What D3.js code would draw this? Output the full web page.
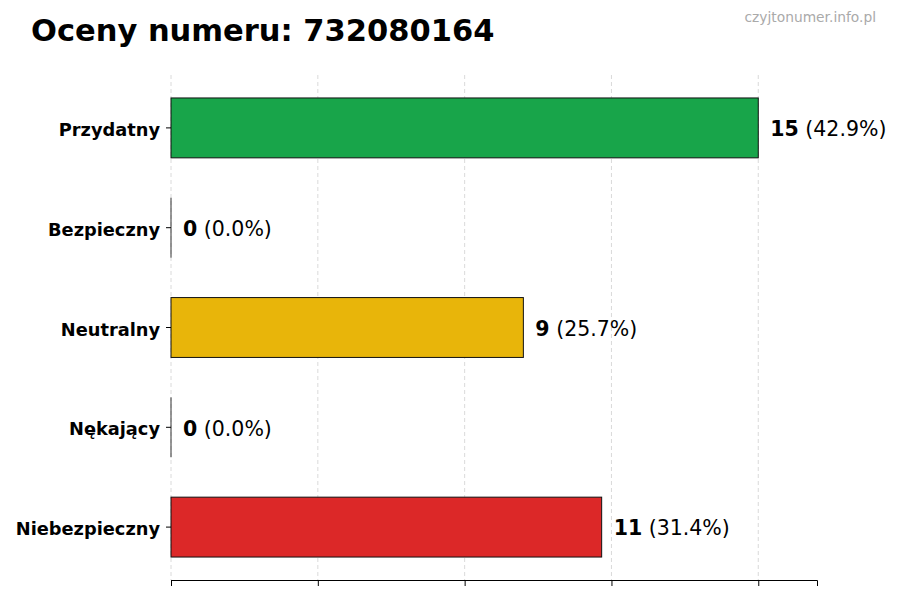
<!DOCTYPE html>
<html>
<head>
<meta charset="utf-8">
<script src="https://cdn.jsdelivr.net/npm/d3@7"></script>
<style>
  body { margin: 0; background: #fff; }
  text { font-family: "DejaVu Sans", sans-serif; }
</style>
</head>
<body>
<script>
const categories = ["Przydatny", "Bezpieczny", "Neutralny", "Nękający", "Niebezpieczny"];
const counts = [15, 0, 9, 0, 11];
const colors = ["#18a54a", "#9ca3af", "#e8b50a", "#f97316", "#dc2828"];
const title = "Oceny numeru: 732080164";
const source = "czyjtonumer.info.pl";

const width = 900, height = 600;
const margin = { top: 75, right: 83, bottom: 20, left: 171 };
const total = d3.sum(counts);
const maxVal = d3.max(counts);

const svg = d3.select("body").append("svg")
    .attr("width", width)
    .attr("height", height);

const x = d3.scaleLinear()
    .domain([0, maxVal * 1.1])
    .range([margin.left, width - margin.right]);

const y = d3.scaleBand()
    .domain(categories)
    .range([78, 577])
    .paddingInner(0.4)
    .paddingOuter(0.2);

const tickVals = d3.range(5).map(i => maxVal * i / 4);

// grid
svg.append("g")
    .selectAll("line")
    .data(tickVals)
    .join("line")
    .attr("x1", d => x(d))
    .attr("x2", d => x(d))
    .attr("y1", margin.top)
    .attr("y2", height - margin.bottom)
    .attr("stroke", "#d0d0d0")
    .attr("stroke-width", 0.8)
    .attr("stroke-dasharray", "4,3");

// bars
svg.append("g")
    .selectAll("rect")
    .data(categories)
    .join("rect")
    .attr("x", x(0))
    .attr("y", d => y(d))
    .attr("width", (d, i) => x(counts[i]) - x(0))
    .attr("height", y.bandwidth())
    .attr("fill", (d, i) => colors[i])
    .attr("stroke", "#111")
    .attr("stroke-width", 1);

// zero-width bars still show their edge
svg.append("g")
    .selectAll("line")
    .data(categories.filter((d, i) => counts[i] === 0))
    .join("line")
    .attr("x1", x(0))
    .attr("x2", x(0))
    .attr("y1", d => y(d))
    .attr("y2", d => y(d) + y.bandwidth())
    .attr("stroke", "#333")
    .attr("stroke-width", 1);

// value labels
const labels = svg.append("g")
    .selectAll("text")
    .data(categories)
    .join("text")
    .attr("x", (d, i) => x(counts[i]) + 12)
    .attr("y", d => y(d) + y.bandwidth() / 2)
    .attr("dy", "0.4em")
    .style("font-size", "20.5px")
    .attr("fill", "#000");
labels.append("tspan")
    .style("font-weight", "bold")
    .text((d, i) => counts[i]);
labels.append("tspan")
    .text((d, i) => " (" + (counts[i] / total * 100).toFixed(1) + "%)");

// axes
const xAxis = svg.append("g")
    .attr("transform", `translate(0,${height - margin.bottom})`)
    .call(d3.axisBottom(x).tickValues(tickVals).tickFormat("").tickSizeOuter(0).tickSize(6));
xAxis.select(".domain").attr("stroke", "#000");

const yAxis = svg.append("g")
    .attr("transform", `translate(${margin.left},0)`)
    .call(d3.axisLeft(y).tickSize(5).tickPadding(6));
yAxis.select(".domain").remove();
yAxis.selectAll("text")
    .attr("dy", "0.45em")
    .style("font-size", "17.8px")
    .style("font-weight", "bold")
    .attr("fill", "#000");

// title
svg.append("text")
    .attr("x", 31)
    .attr("y", 41)
    .style("font-size", "30.5px")
    .style("font-weight", "bold")
    .text(title);

svg.append("text")
    .attr("x", 876)
    .attr("y", 22)
    .attr("text-anchor", "end")
    .style("font-size", "13.8px")
    .attr("fill", "#aaa")
    .text(source);
</script>
</body>
</html>
